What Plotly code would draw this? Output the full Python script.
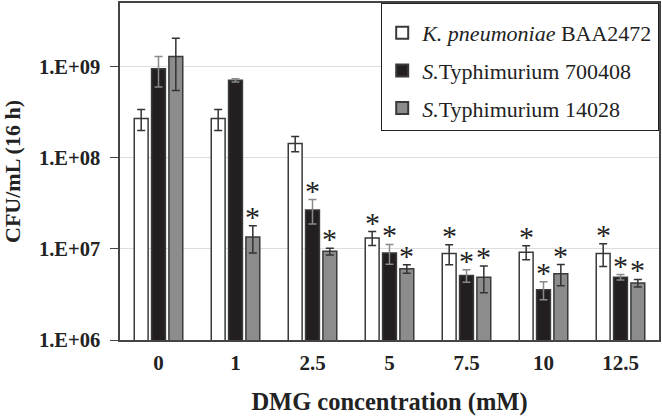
import numpy as np
import plotly.graph_objects as go

categories = ["0", "1", "2.5", "5", "7.5", "10", "12.5"]
series_names = ["<i>K. pneumoniae</i> BAA2472",
                "<i>S.</i>Typhimurium 700408",
                "<i>S.</i>Typhimurium 14028"]
kp = [2.7e8, 2.7e8, 1.44e8, 1.32e7, 8.9e6, 9.2e6, 8.9e6]
kp_err = [7e7, 7e7, 2.7e7, 2.3e6, 2.2e6, 1.6e6, 2.5e6]
st7 = [9.5e8, 7.1e8, 2.68e7, 9.0e6, 5.1e6, 3.57e6, 4.9e6]
st7_err = [3.5e8, 3e7, 8e6, 2.2e6, 8e5, 8e5, 3.3e5]
st14 = [1.3e9, 1.35e7, 9.4e6, 6.05e6, 4.9e6, 5.33e6, 4.22e6]
st14_err = [7.5e8, 4.5e6, 8e5, 6.5e5, 1.6e6, 1.4e6, 4e5]
kp_sig = [0, 0, 0, 1, 1, 1, 1]
st7_sig = [0, 0, 1, 1, 1, 1, 1]
st14_sig = [0, 1, 1, 1, 1, 1, 1]
y_tickvals = [1e6, 1e7, 1e8, 1e9]
y_ticktext = ["1.E+06", "1.E+07", "1.E+08", "1.E+09"]

FONT = "Liberation Serif"
fills = ["#ffffff", "#231f20", "#8c8c8c"]
err_colors = ["#333333", "#8a8a8a", "#333333"]
centers = [-0.225, 0.0, 0.225]
bw = 0.18

values = [kp, st7, st14]
errs = [kp_err, st7_err, st14_err]
sigs = [kp_sig, st7_sig, st14_sig]

xpos = np.arange(len(categories))
fig = go.Figure()
annotations = []
for k in range(3):
    fig.add_trace(go.Bar(
        x=xpos, y=values[k], name=series_names[k], legendgroup="g%d" % k,
        width=bw, offset=centers[k] - bw / 2,
        marker=dict(color=fills[k], line=dict(color="#3a3a3a", width=1.5)),
        error_y=dict(type="data", array=errs[k], visible=True,
                     color=err_colors[k], thickness=1.5, width=4),
    ))
    for i in range(len(categories)):
        if sigs[k][i]:
            top = values[k][i] + errs[k][i]
            annotations.append(dict(
                x=xpos[i] + centers[k], y=np.log10(top), xref="x", yref="y",
                text="*", showarrow=False, yanchor="bottom", yshift=-9,
                font=dict(family=FONT, size=30, color="#222222"),
            ))

fig.update_layout(
    width=662, height=416,
    margin=dict(l=120, r=2, t=1, b=76),
    paper_bgcolor="white", plot_bgcolor="white",
    barmode="overlay",
    showlegend=True,
    legend=dict(x=1, y=1, xanchor="right", yanchor="top",
                bordercolor="#222222", borderwidth=1.2,
                bgcolor="white", tracegroupgap=6,
                title=dict(text=" ", font=dict(size=6)),
                font=dict(family=FONT, size=22, color="#222222"),
                itemsizing="constant"),
    annotations=annotations,
    font=dict(family=FONT, color="#222222"),
)
fig.update_xaxes(
    range=[-0.5, len(categories) - 0.5],
    tickvals=xpos, ticktext=categories,
    tickfont=dict(family=FONT, size=21, color="#222222", weight="bold"),
    ticklabelstandoff=3,
    showgrid=False, ticks="", showline=True, linecolor="#444444",
    linewidth=1.5, mirror=True,
    title=dict(text="<b>DMG concentration (mM)</b>",
               font=dict(family=FONT, size=24.5, color="#222222"), standoff=19),
)
fig.update_yaxes(
    type="log", range=[6, 9.7],
    tickvals=y_tickvals, ticktext=y_ticktext,
    tickfont=dict(family=FONT, size=20.5, color="#222222", weight="bold"),
    ticklabelstandoff=6,
    showgrid=True, gridcolor="#dddddd", gridwidth=1,
    ticks="outside", ticklen=8, tickcolor="#444444",
    showline=True, linecolor="#444444", linewidth=1.5, mirror=True,
    title=dict(text="<b>CFU/mL (16 h)</b>",
               font=dict(family=FONT, size=22, color="#222222"), standoff=12),
)
fig.write_html("out.html", config={"displayModeBar": False},
               post_script="document.body.style.margin='0';document.body.style.padding='0';")
